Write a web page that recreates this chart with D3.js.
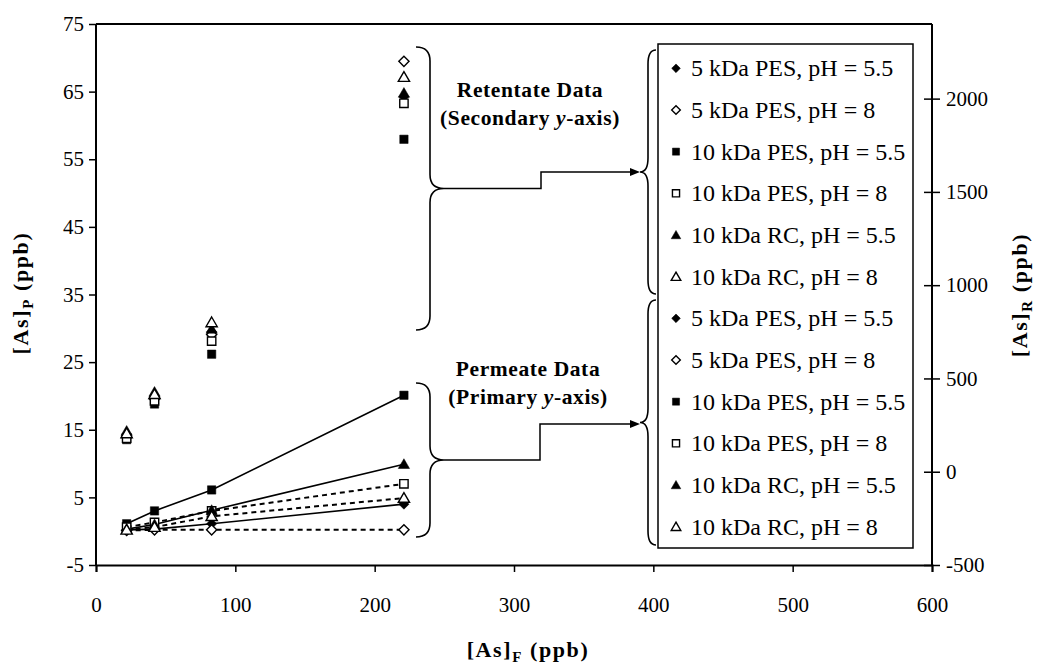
<!DOCTYPE html>
<html>
<head>
<meta charset="utf-8">
<script src="https://cdn.jsdelivr.net/npm/d3@7"></script>
<style>
  body { margin: 0; background: #fff; }
  svg { font-family: "Liberation Serif", "Times New Roman", serif; }
  .tick text { font-size: 21px; fill: #000; }
  .domain, .tick line { stroke: #000; }
</style>
</head>
<body>
<svg id="chart" width="1040" height="664"></svg>
<script>
// Arsenic feed vs permeate / retentate concentrations.
const feedX = [22, 42, 83, 221];

const seriesNames = [
    "5 kDa PES, pH = 5.5",
    "5 kDa PES, pH = 8",
    "10 kDa PES, pH = 5.5",
    "10 kDa PES, pH = 8",
    "10 kDa RC, pH = 5.5",
    "10 kDa RC, pH = 8"
];
const seriesShape = ["diamond", "diamond", "square", "square", "triangle", "triangle"];
const seriesFilled = [true, false, true, false, true, false];

// retentate, secondary axis (ppb)
const retentate = [
    [195, 400, 750, 2010],
    [185, 390, 735, 2200],
    [172, 363, 630, 1782],
    [180, 380, 700, 1975],
    [218, 427, 765, 2030],
    [205, 415, 800, 2115]
];

// permeate, primary axis (ppb)
const permeate = [
    [0.2, 0.3, 1.1, 4.0],
    [0.1, 0.2, 0.2, 0.2],
    [1.1, 3.0, 6.1, 20.1],
    [0.6, 1.3, 3.0, 7.0],
    [0.3, 1.0, 3.1, 9.9],
    [0.2, 0.6, 2.2, 4.9]
];

const xTicks = [0, 100, 200, 300, 400, 500, 600];
const yTicks = [-5, 5, 15, 25, 35, 45, 55, 65, 75];
const y2Ticks = [-500, 0, 500, 1000, 1500, 2000];

const plotL = 96, plotR = 932, plotT = 24, plotB = 565;

const svg = d3.select("#chart");
const x  = d3.scaleLinear().domain([0, 600]).range([plotL, plotR]);
const yP = d3.scaleLinear().domain([-5, 75]).range([plotB, plotT]);
const yR = d3.scaleLinear().domain([-500, 2400]).range([plotB, plotT]);

// frame top line
svg.append("line")
    .attr("x1", plotL).attr("x2", plotR).attr("y1", plotT).attr("y2", plotT)
    .attr("stroke", "#000").attr("stroke-width", 2);

// ── axes ─────────────────────────────
const gx = svg.append("g").attr("transform", `translate(0,${plotB})`)
    .call(d3.axisBottom(x).tickValues(xTicks).tickSizeOuter(0).tickSize(7).tickPadding(25));
const gy = svg.append("g").attr("transform", `translate(${plotL},0)`)
    .call(d3.axisLeft(yP).tickValues(yTicks).tickSizeOuter(0).tickSize(7).tickPadding(5));
const gy2 = svg.append("g").attr("transform", `translate(${plotR},0)`)
    .call(d3.axisRight(yR).tickValues(y2Ticks).tickSizeOuter(0).tickSize(8).tickPadding(6)
        .tickFormat(d3.format("d")));
gy2.selectAll(".tick line").attr("x1", -8);

[gx, gy, gy2].forEach(g => {
    g.select(".domain").attr("stroke-width", 2);
    g.selectAll(".tick line").attr("stroke-width", 1.5);
    g.attr("font-family", null).attr("font-size", null);
});
gy.select(".domain").attr("d", `M0,${plotT}V${plotB}`);
gy2.select(".domain").attr("d", `M0,${plotT}V${plotB}`);
gy2.selectAll(".tick text").text(d => d < 0 ? "-" + Math.abs(d) : d);
gy.selectAll(".tick text").text(d => d < 0 ? "-" + Math.abs(d) : d);

// ── marker helper ────────────────────
function marker(sel, shape, filled, scale) {
    const s = scale || 1;
    let gen;
    if (shape === "square") gen = d3.symbol(d3.symbolSquare, 70 * s * s);
    else if (shape === "diamond") gen = d3.symbol(d3.symbolSquare, 52 * s * s);
    else gen = d3.symbol(d3.symbolTriangle, 55 * s * s);
    const p = sel.append("path")
        .attr("d", gen())
        .attr("fill", filled ? "#000" : "#fff")
        .attr("stroke", "#000")
        .attr("stroke-width", filled ? 0.5 : 1.4);
    if (shape === "diamond") p.attr("transform", "rotate(45)");
    if (shape === "triangle") p.attr("transform", "translate(0,1)");
    return p;
}

// ── permeate lines ───────────────────
const line = d3.line().x((d, i) => x(feedX[i])).y(d => yP(d));
const lineG = svg.append("g");
permeate.forEach((vals, k) => {
    lineG.append("path")
        .attr("d", line(vals))
        .attr("fill", "none")
        .attr("stroke", "#000")
        .attr("stroke-width", seriesFilled[k] ? 1.6 : 2)
        .attr("stroke-dasharray", seriesFilled[k] ? null : "5,4");
});

// ── points ───────────────────────────
function drawPoints(data, yScale) {
    data.forEach((vals, k) => {
        vals.forEach((v, i) => {
            const g = svg.append("g").attr("transform", `translate(${x(feedX[i])},${yScale(v)})`);
            marker(g, seriesShape[k], seriesFilled[k]);
        });
    });
}
drawPoints(retentate, yR);
drawPoints(permeate, yP);

// ── braces ───────────────────────────
// dir = 1: tip points right "}", dir = -1: tip points left "{"
function bracePath(xs, y0, y1, w, dir) {
    const ym = (y0 + y1) / 2, r = 14;
    const xe = xs - dir * w, xt = xs + dir * w;
    return `M${xe},${y0} Q${xs},${y0} ${xs},${y0 + r} L${xs},${ym - r} ` +
           `Q${xs},${ym} ${xt},${ym} Q${xs},${ym} ${xs},${ym + r} ` +
           `L${xs},${y1 - r} Q${xs},${y1} ${xe},${y1}`;
}
const braceG = svg.append("g").attr("fill", "none").attr("stroke", "#000").attr("stroke-width", 1.6);
braceG.append("path").attr("d", bracePath(430, 47, 330, 14, 1));
braceG.append("path").attr("d", bracePath(430, 383, 537, 14, 1));
braceG.append("path").attr("d", bracePath(648, 50, 294, 8, -1));
braceG.append("path").attr("d", bracePath(648, 300, 545, 8, -1));

// connectors with arrows
const connG = svg.append("g");
[[188.5, 172, 541], [460, 424, 540]].forEach(([yFrom, yTo, xStep]) => {
    connG.append("path")
        .attr("d", `M444,${yFrom} H${xStep} V${yTo} H632`)
        .attr("fill", "none").attr("stroke", "#000").attr("stroke-width", 1.5);
    connG.append("path")
        .attr("d", `M640,${yTo} L630,${yTo - 4} L630,${yTo + 4} Z`)
        .attr("fill", "#000");
});

// annotation text
const ann = svg.append("g").attr("font-weight", "bold").attr("font-size", 21.5)
    .attr("text-anchor", "middle").attr("letter-spacing", 0.6);
function twoLine(cx, y, first, second) {
    ann.append("text").attr("x", cx).attr("y", y).text(first + " Data");
    const t = ann.append("text").attr("x", cx).attr("y", y + 28);
    t.append("tspan").text(`(${second} `);
    t.append("tspan").attr("font-style", "italic").text("y");
    t.append("tspan").text("-axis)");
}
twoLine(530, 97, "Retentate", "Secondary");
twoLine(528, 376, "Permeate", "Primary");

// ── legend box ───────────────────────
svg.append("rect")
    .attr("x", 658).attr("y", 44).attr("width", 255).attr("height", 504)
    .attr("fill", "#fff").attr("stroke", "#000").attr("stroke-width", 1.5);
const legendRows = seriesNames.concat(seriesNames);
legendRows.forEach((name, i) => {
    const k = i % 6;
    const cy = 68.3 + i * 41.67;
    const g = svg.append("g").attr("transform", `translate(676,${cy})`);
    marker(g, seriesShape[k], seriesFilled[k], 0.85);
    svg.append("text")
        .attr("x", 691).attr("y", cy + 8)
        .attr("font-size", 24)
        .text(name);
});

// ── axis titles ──────────────────────
function title(sel, sub) {
    sel.attr("font-weight", "bold").attr("font-size", 22).attr("letter-spacing", 1.6);
    sel.append("tspan").text("[As]");
    sel.append("tspan").attr("font-size", 15).attr("dy", 5).text(sub);
    sel.append("tspan").attr("dy", -5).text(" (ppb)");
}
title(svg.append("text").attr("x", 528).attr("y", 657).attr("text-anchor", "middle"), "F");
title(svg.append("text").attr("text-anchor", "middle")
    .attr("transform", "translate(28,293) rotate(-90)"), "P");
title(svg.append("text").attr("text-anchor", "middle")
    .attr("transform", "translate(1027,295) rotate(-90)"), "R");
</script>
</body>
</html>
